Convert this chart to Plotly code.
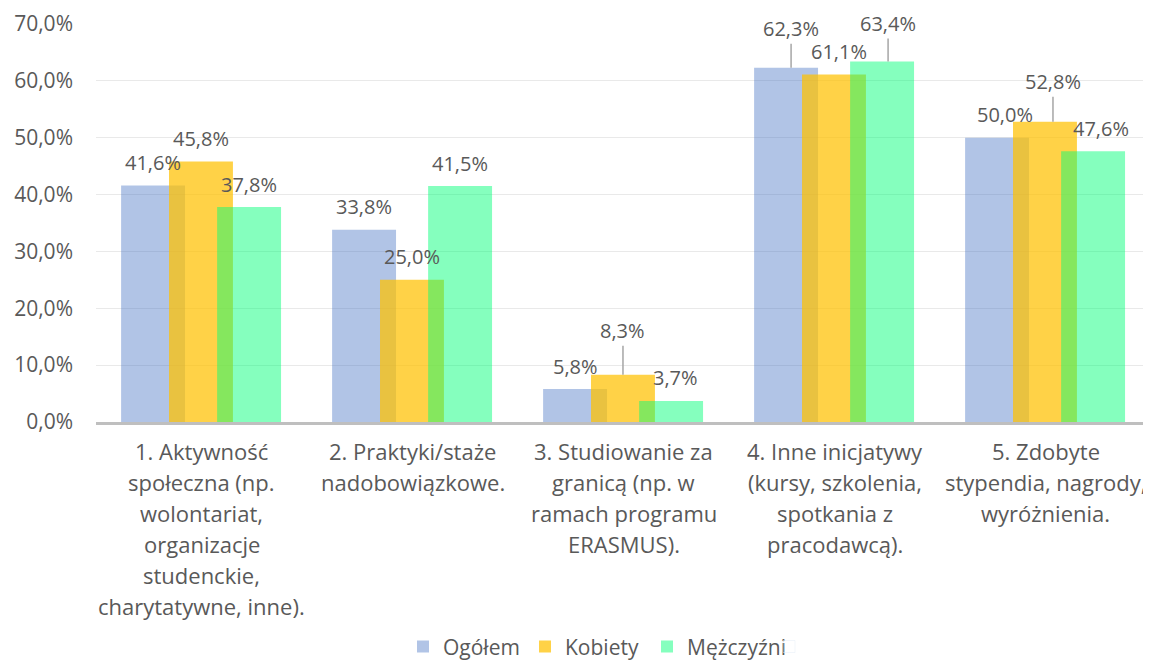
import plotly.graph_objects as go

categories = [
    ["1. Aktywność", "społeczna (np.", "wolontariat,", "organizacje", "studenckie,", "charytatywne, inne)."],
    ["2. Praktyki/staże", "nadobowiązkowe."],
    ["3. Studiowanie za", "granicą (np. w", "ramach programu", "ERASMUS)."],
    ["4. Inne inicjatywy", "(kursy, szkolenia,", "spotkania z", "pracodawcą)."],
    ["5. Zdobyte", "stypendia, nagrody,", "wyróżnienia."],
]
series_names = ["Ogółem", "Kobiety", "Mężczyźni"]
ogolem = [41.6, 33.8, 5.8, 62.3, 50.0]
kobiety = [45.8, 25.0, 8.3, 61.1, 52.8]
mezczyzni = [37.8, 41.5, 3.7, 63.4, 47.6]
y_ticks = [0, 10, 20, 30, 40, 50, 60, 70]

series_values = [ogolem, kobiety, mezczyzni]
colors = ["rgba(68,114,196,0.42)", "rgba(255,192,0,0.72)", "rgba(0,255,120,0.48)"]
bar_width = 0.303
offsets = [-0.381, -0.154, 0.074]

FONT = "Open Sans"
TXT = "#595959"

# label tweaks: (series, category) -> (xshift px, leader ay px or None)
label_tweaks = {
    (1, 2): (0, -44),
    (2, 2): (4, None),
    (0, 3): (5, -39),
    (1, 3): (5, None),
    (2, 3): (6, -38),
    (0, 4): (8, None),
    (1, 4): (8, -40),
    (2, 4): (8, None),
}

fig = go.Figure()
x_idx = list(range(len(categories)))
for s, (name, vals) in enumerate(zip(series_names, series_values)):
    fig.add_trace(go.Bar(
        x=x_idx, y=[v / 100 for v in vals], name=name,
        width=bar_width, offset=offsets[s],
        marker=dict(color=colors[s], line=dict(width=0)),
        hoverinfo="skip",
    ))
# invisible spacer entry so the last legend label is not clipped
fig.add_trace(go.Bar(x=[None], y=[None], name=" ", marker=dict(color="rgba(0,0,0,0)"),
                     hoverinfo="skip"))

annotations = []
for s, vals in enumerate(series_values):
    for c, v in enumerate(vals):
        xc = c + offsets[s] + bar_width / 2
        dx, ay = label_tweaks.get((s, c), (0, None))
        txt = f"{v:.1f}".replace(".", ",") + "%"
        if ay is None:
            annotations.append(dict(x=xc, y=v / 100, xref="x", yref="y", text=txt,
                                    showarrow=False, yanchor="middle", yshift=23, xshift=dx,
                                    font=dict(family=FONT, size=20, color=TXT)))
        else:
            annotations.append(dict(x=xc, y=v / 100, xref="x", yref="y", text=txt,
                                    showarrow=True, arrowhead=0, arrowwidth=1.5,
                                    arrowcolor="#A6A6A6", ax=0, ay=ay, xshift=dx,
                                    font=dict(family=FONT, size=20, color=TXT)))

for c, lines in enumerate(categories):
    for i, line in enumerate(lines):
        annotations.append(dict(x=c, y=0, xref="x", yref="paper", text=line,
                                showarrow=False, yanchor="middle", yshift=-(29 + 31 * i),
                                font=dict(family=FONT, size=22, color=TXT)))

fig.update_layout(
    width=1143, height=655,
    margin=dict(l=88, r=0, t=16, b=241, autoexpand=False),
    paper_bgcolor="white", plot_bgcolor="white",
    barmode="overlay",
    separators=", ",
    font=dict(family=FONT, size=20, color=TXT),
    xaxis=dict(range=[-0.5, 4.5], showticklabels=False, showgrid=False, zeroline=False,
               showline=True, linecolor="#BFBFBF", linewidth=3, layer="above traces",
               fixedrange=True),
    yaxis=dict(range=[0, 0.7], tickvals=[t / 100 for t in y_ticks], tickformat=".1%",
               showgrid=True, gridcolor="#E9E9E9", gridwidth=1, zeroline=False,
               ticks="", ticklabelstandoff=22, tickfont=dict(family=FONT, size=21, color=TXT)),
    legend=dict(orientation="h", x=0.291, xanchor="left", y=-0.565, yanchor="middle",
                font=dict(family=FONT, size=21, color=TXT), traceorder="normal",
                itemwidth=30, entrywidth=77, entrywidthmode="pixels",
                bgcolor="rgba(0,0,0,0)"),
    annotations=annotations,
    showlegend=True,
)

fig.write_html("out.html")
